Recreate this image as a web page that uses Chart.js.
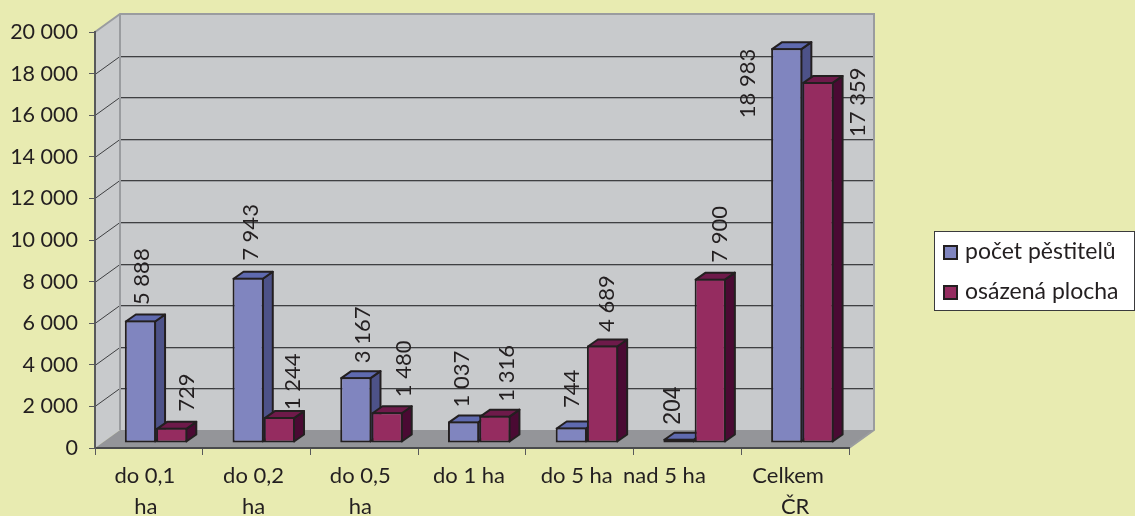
<!DOCTYPE html>
<html><head><meta charset="utf-8">
<style>html,body{margin:0;padding:0;background:#E8EBB1;overflow:hidden}canvas{display:block}</style>
<script src="https://cdn.jsdelivr.net/npm/chart.js@4"></script>
</head><body>
<div style="width:1135px;height:516px;position:relative"><canvas id="c" width="1135" height="516"></canvas></div>
<script>
const categories = [["do 0,1","ha"],["do 0,2","ha"],["do 0,5","ha"],["do 1 ha"],["do 5 ha"],["nad 5 ha"],["Celkem","ČR"]];
const seriesNames = ["počet pěstitelů","osázená plocha"];
const growers = [5888,7943,3167,1037,744,204,18983];
const area = [729,1244,1480,1316,4689,7900,17359];

const FONT = "Lato, 'Noto Sans', sans-serif";
const INK = "#231F20";
const front = ["#8085BF","#952C60"], sideC = ["#4D5288","#4A0A33"], topC = ["#5F6AAF","#6E1A4A"];
const BAR_SHIFT = {x:7.2,y:-5}, BAR_DEPTH = {x:10,y:-7}, WALL = {x:25,y:-18}, LABEL_BASE = {x:7.5,y:-5};
// label nudges relative to each bar's top centre
const nudge = [
 [[1.5,-15.5],[2,-17],[6.5,-14],[-2,-14],[0.5,-19.5],[-6,-14],[-39.5,70]],
 [[14.5,-16],[13,-7],[16.5,-15],[12,-14],[4.5,-13.5],[9,-16],[39.5,55]]
];
// per-category x label centres relative to the category centre, line by line
const xNudge = [[-4,-3],[-3,-3],[-4,-4],[-3],[-3],[-23],[-7,0]];
const fmt = v => String(v).replace(/\B(?=(\d{3})+$)/g," ");

const scene = {
 id:"scene",
 beforeDraw(ch){
  const {ctx} = ch, {left:l,right:r,top:t,bottom:b} = ch.chartArea, y = ch.scales.y;
  ctx.save();
  ctx.fillStyle="#C8CACC";
  ctx.beginPath();ctx.moveTo(l,t);ctx.lineTo(l+WALL.x,t+WALL.y);ctx.lineTo(r+WALL.x,t+WALL.y);ctx.lineTo(r+WALL.x,b+WALL.y);
  ctx.lineTo(l+WALL.x,b+WALL.y);ctx.lineTo(l,b);ctx.closePath();ctx.fill();
  ctx.fillStyle="#949599";
  ctx.beginPath();ctx.moveTo(l,b);ctx.lineTo(l+WALL.x,b+WALL.y);ctx.lineTo(r+WALL.x,b+WALL.y);ctx.lineTo(r,b);ctx.closePath();ctx.fill();
  y.ticks.forEach(tk=>{
   if(tk.value===0||tk.value===20000) return;
   const p=Math.round(y.getPixelForValue(tk.value));
   ctx.strokeStyle="#9EA0A3";ctx.lineWidth=1;
   ctx.beginPath();ctx.moveTo(l+WALL.x,p+WALL.y+1.5);ctx.lineTo(r+WALL.x,p+WALL.y+1.5);ctx.stroke();
   ctx.strokeStyle="#3F4042";
   ctx.beginPath();ctx.moveTo(l,p+.5);ctx.lineTo(l+WALL.x,p+WALL.y+.5);ctx.lineTo(r+WALL.x,p+WALL.y+.5);ctx.stroke();
  });
  ctx.strokeStyle="#9A9C9F";ctx.lineWidth=2;
  ctx.beginPath();ctx.moveTo(l,t);ctx.lineTo(l+WALL.x,t+WALL.y);ctx.lineTo(r+WALL.x,t+WALL.y);ctx.lineTo(r+WALL.x,b+WALL.y);ctx.lineTo(r,b);ctx.stroke();
  ctx.beginPath();ctx.moveTo(l+WALL.x,t+WALL.y);ctx.lineTo(l+WALL.x,b+WALL.y);ctx.stroke();
  ctx.restore();
 },
 beforeDatasetsDraw(ch){
  const {ctx} = ch;
  ctx.save();
  ctx.translate(BAR_SHIFT.x,BAR_SHIFT.y);
  ch.data.datasets.forEach((ds,d)=>{
   ch.getDatasetMeta(d).data.forEach(el=>{
    const x0=el.x-el.width/2+1, x1=el.x+el.width/2-1, yt=el.y+1, yb=el.base-1, dx=BAR_DEPTH.x, dy=BAR_DEPTH.y;
    ctx.lineJoin="round";ctx.lineWidth=2;ctx.strokeStyle=INK;
    ctx.fillStyle=sideC[d];
    ctx.beginPath();ctx.moveTo(x1,yt);ctx.lineTo(x1+dx,yt+dy);ctx.lineTo(x1+dx,yb+dy);ctx.lineTo(x1,yb);ctx.closePath();ctx.fill();ctx.stroke();
    ctx.fillStyle=topC[d];
    ctx.beginPath();ctx.moveTo(x0,yt);ctx.lineTo(x0+dx,yt+dy);ctx.lineTo(x1+dx,yt+dy);ctx.lineTo(x1,yt);ctx.closePath();ctx.fill();ctx.stroke();
   });
  });
 },
 afterDatasetsDraw(ch){
  const {ctx} = ch;
  ctx.restore();
  ctx.save();
  ctx.fillStyle=INK;ctx.textAlign="left";ctx.textBaseline="middle";
  ch.data.datasets.forEach((ds,d)=>{
   ch.getDatasetMeta(d).data.forEach((el,i)=>{
    const n=nudge[d][i];
    ctx.save();
    ctx.translate(el.x+LABEL_BASE.x+n[0],el.y+LABEL_BASE.y+n[1]);
    ctx.rotate(-Math.PI/2);
    ctx.font = ds.data[i]===204 ? "23px 'Liberation Sans'" : "22px "+FONT;
    ctx.fillText(fmt(ds.data[i]),0,0);
    ctx.restore();
   });
  });
  const xs=ch.scales.x;
  ctx.textAlign="center";ctx.textBaseline="middle";ctx.font="22px "+FONT;ctx.fillStyle=INK;
  categories.forEach((lines,i)=>{
   const cx=xs.getPixelForTick(i);
   lines.forEach((s,j)=>ctx.fillText(s,cx+xNudge[i][j],476+j*31));
  });
  ctx.fillStyle="#fff";ctx.strokeStyle="#3A3A3C";ctx.lineWidth=1;
  ctx.fillRect(934,231,201,80);ctx.strokeRect(934.5,231.5,200,79);
  seriesNames.forEach((s,i)=>{
   const yy=246+i*40;
   ctx.fillStyle=front[i];ctx.strokeStyle=INK;ctx.lineWidth=2;
   ctx.fillRect(944,yy,13,13);ctx.strokeRect(944,yy,13,13);
   ctx.fillStyle=INK;ctx.textAlign="left";ctx.font="23px "+FONT;
   ctx.fillText(s,965,yy+6);
  });
  ctx.restore();
 }
};

new Chart(document.getElementById("c"),{
 type:"bar",
 data:{labels:categories.map(c=>c.join(" ")),datasets:[
  {label:seriesNames[0],data:growers,backgroundColor:front[0],borderColor:INK,borderWidth:2,borderSkipped:false,clip:false},
  {label:seriesNames[1],data:area,backgroundColor:front[1],borderColor:INK,borderWidth:2,borderSkipped:false,clip:false}
 ]},
 options:{
  responsive:false,animation:false,devicePixelRatio:1,
  layout:{padding:{top:32,right:286,left:0,bottom:0}},
  plugins:{legend:{display:false},title:{display:false},tooltip:{enabled:false}},
  datasets:{bar:{categoryPercentage:0.58,barPercentage:1}},
  scales:{
   x:{
    afterFit:s=>{s.height=68},
    grid:{display:true,drawOnChartArea:false,drawTicks:true,tickLength:7,color:"#58595B",lineWidth:1,offset:true},
    border:{color:"#4A4B4D",width:2},
    ticks:{display:false}
   },
   y:{
    min:0,max:20000,
    afterFit:s=>{s.width=95},
    grid:{drawOnChartArea:false,drawTicks:true,tickLength:6,color:"#58595B",lineWidth:1},
    border:{color:"#58595B",width:2},
    ticks:{stepSize:2000,padding:11,color:INK,font:{family:FONT,size:21.5},callback:v=>fmt(v)}
   }
  }
 },
 plugins:[scene]
});
</script>
</body></html>
